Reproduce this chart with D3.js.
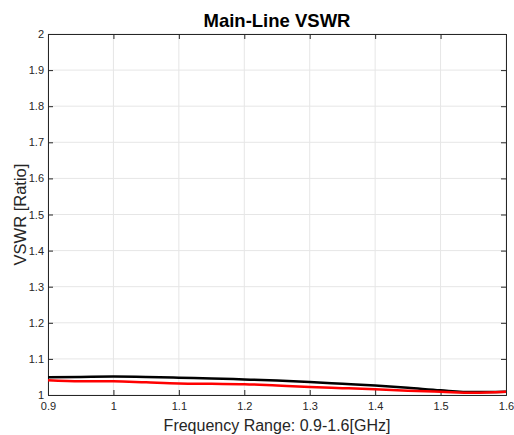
<!DOCTYPE html>
<html>
<head>
<meta charset="utf-8">
<script src="https://d3js.org/d3.v7.min.js"></script>
<style>
  body { margin: 0; background: #fff; }
  text { font-family: "Liberation Sans", Arial, sans-serif; }
</style>
</head>
<body>
<div id="chart"></div>
<script>
// frequency points (GHz) and measured VSWR
var freq = [0.9, 0.95, 1.0, 1.05, 1.1, 1.15, 1.2, 1.25, 1.3, 1.35, 1.4, 1.45, 1.5, 1.55, 1.6];
var vswrBlack = [1.049, 1.050, 1.051, 1.050, 1.048, 1.046, 1.043, 1.040, 1.036, 1.031, 1.026, 1.020, 1.013, 1.008, 1.009];
var vswrRed = [1.041, 1.038, 1.038, 1.035, 1.032, 1.031, 1.030, 1.026, 1.022, 1.019, 1.016, 1.012, 1.009, 1.006, 1.009];
var xTicks = [0.9, 1.0, 1.1, 1.2, 1.3, 1.4, 1.5, 1.6];
var yTicks = [1, 1.1, 1.2, 1.3, 1.4, 1.5, 1.6, 1.7, 1.8, 1.9, 2];

var W = 514, H = 435;
var m = {left: 48, right: 8, top: 34, bottom: 40};

var svg = d3.select("#chart").append("svg")
  .attr("width", W)
  .attr("height", H);

var x = d3.scaleLinear().domain([0.9, 1.6]).range([m.left, W - m.right]);
var y = d3.scaleLinear().domain([1, 2]).range([H - m.bottom, m.top]);

var fmt = function(d) { return d3.format("~g")(d); };

// grid
svg.append("g").selectAll("line.gx")
  .data(xTicks).enter().append("line")
  .attr("x1", function(d) { return x(d); })
  .attr("x2", function(d) { return x(d); })
  .attr("y1", y(1)).attr("y2", y(2))
  .style("stroke", "#e6e6e6").style("stroke-width", 1);
svg.append("g").selectAll("line.gy")
  .data(yTicks).enter().append("line")
  .attr("x1", x(0.9)).attr("x2", x(1.6))
  .attr("y1", function(d) { return y(d); })
  .attr("y2", function(d) { return y(d); })
  .style("stroke", "#e6e6e6").style("stroke-width", 1);

// axes, ticks inside like matlab
var axisColor = "#262626";
var gx = svg.append("g").attr("transform", "translate(0," + y(1) + ")")
  .call(d3.axisBottom(x).tickValues(xTicks).tickSize(-5).tickPadding(7).tickFormat(fmt));
var gxt = svg.append("g").attr("transform", "translate(0," + y(2) + ")")
  .call(d3.axisTop(x).tickValues(xTicks).tickSize(-5).tickFormat(""));
var gy = svg.append("g").attr("transform", "translate(" + x(0.9) + ",0)")
  .call(d3.axisLeft(y).tickValues(yTicks).tickSize(-5).tickPadding(4).tickFormat(fmt));
var gyr = svg.append("g").attr("transform", "translate(" + x(1.6) + ",0)")
  .call(d3.axisRight(y).tickValues(yTicks).tickSize(-5).tickFormat(""));

[gx, gxt, gy, gyr].forEach(function(g) {
  g.selectAll("path").style("stroke", axisColor);
  g.selectAll("line").style("stroke", axisColor);
  g.selectAll("text").style("fill", axisColor).style("font-size", "11px")
    .style("font-family", "Liberation Sans, Arial, sans-serif");
});

// lines
var line = function(vals) {
  return d3.line()
    .x(function(d, i) { return x(freq[i]); })
    .y(function(d) { return y(d); })
    .curve(d3.curveMonotoneX)(vals);
};
svg.append("path").attr("d", line(vswrBlack))
  .style("fill", "none").style("stroke", "#000").style("stroke-width", 2.5);
svg.append("path").attr("d", line(vswrRed))
  .style("fill", "none").style("stroke", "#ff0000").style("stroke-width", 2.5);

// titles
svg.append("text")
  .attr("x", (x(0.9) + x(1.6)) / 2).attr("y", 27)
  .attr("text-anchor", "middle")
  .style("font-size", "18.5px").style("font-weight", "bold").style("fill", "#000")
  .text("Main-Line VSWR");
svg.append("text")
  .attr("x", (x(0.9) + x(1.6)) / 2).attr("y", 431)
  .attr("text-anchor", "middle")
  .style("font-size", "16px").style("fill", axisColor)
  .text("Frequency Range: 0.9-1.6[GHz]");
svg.append("text")
  .attr("transform", "translate(26," + (y(1) + y(2)) / 2 + ") rotate(-90)")
  .attr("text-anchor", "middle")
  .style("font-size", "16.5px").style("fill", axisColor)
  .text("VSWR [Ratio]");
</script>
</body>
</html>
